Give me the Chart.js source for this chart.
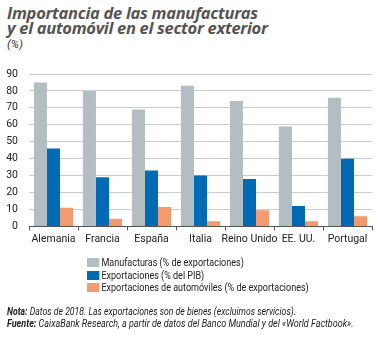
<!DOCTYPE html>
<html>
<head>
<meta charset="utf-8">
<script src="https://cdn.jsdelivr.net/npm/chart.js@4/dist/chart.umd.min.js"></script>
<style>
  body { margin: 0; background: #fff; }
  #wrap { position: relative; width: 386px; height: 338px; overflow: hidden; font-family: Roboto, sans-serif; }
  #chart-area { position: absolute; left: 0; top: 0; }
  .title { position: absolute; left: 7px; top: 5px; font: italic bold 16.5px "Open Sans", sans-serif; color: #555; line-height: 15px; letter-spacing: -0.3px; white-space: nowrap; }
  .unit { position: absolute; left: 7px; top: 37px; font: italic 11.5px Roboto, sans-serif; color: #333; }
  #legend { position: absolute; left: 87px; top: 257px; font-size: 11px; color: #222; transform: scaleX(0.82); transform-origin: left top; }
  #legend div { height: 12.5px; line-height: 11px; white-space: nowrap; }
  #legend span { display: inline-block; width: 14.6px; height: 9px; margin-right: 3px; vertical-align: -1px; }
  .note { position: absolute; left: 7px; font: italic 10px Roboto, sans-serif; color: #222; white-space: nowrap; transform: scaleX(0.87); transform-origin: left top; }
  .note b { font-weight: bold; }
</style>
</head>
<body>
<div id="wrap">
  <div class="title">Importancia de las manufacturas<br>y el automóvil en el sector exterior</div>
  <div class="unit">(%)</div>
  <canvas id="chart-area" width="386" height="338"></canvas>
  <div id="legend"></div>
  <div class="note" style="top:306px"><b>Nota:</b> Datos de 2018. Las exportaciones son de bienes (excluimos servicios).</div>
  <div class="note" style="top:318px; transform: scaleX(0.9)"><b>Fuente:</b> CaixaBank Research, a partir de datos del Banco Mundial y del «World Factbook».</div>
</div>
<script>
var countries = ["Alemania", "Francia", "España", "Italia", "Reino Unido", "EE. UU.", "Portugal"];
var manufacturas = [85, 80, 69, 83, 74, 59, 76];
var exportacionesPib = [46, 29, 33, 30, 28, 12, 40];
var automoviles = [11, 4.5, 11.5, 3, 9.5, 3, 6];
var seriesNames = [
	"Manufacturas (% de exportaciones)",
	"Exportaciones (% del PIB)",
	"Exportaciones de automóviles (% de exportaciones)"
];
var seriesColors = ['#b4bdc2', '#006ab4', '#f39a70'];

var tickFont = { family: "Roboto", size: 10.5 };

var config = {
	type: 'bar',
	data: {
		labels: countries,
		datasets: [
			{ label: seriesNames[0], data: manufacturas, backgroundColor: seriesColors[0] },
			{ label: seriesNames[1], data: exportacionesPib, backgroundColor: seriesColors[1] },
			{ label: seriesNames[2], data: automoviles, backgroundColor: seriesColors[2] }
		]
	},
	options: {
		responsive: false,
		animation: false,
		layout: { padding: { left: 0, right: 14, top: 74, bottom: 89 } },
		datasets: { bar: { categoryPercentage: 0.8, barPercentage: 1.0 } },
		plugins: { legend: { display: false }, tooltip: { enabled: false } },
		scales: {
			x: {
				grid: { drawOnChartArea: false, drawTicks: true, tickLength: 4, offset: true, color: '#555' },
				border: { display: true, color: '#555', width: 1 },
				ticks: { color: '#222', font: tickFont, padding: 3, maxRotation: 0, autoSkip: false }
			},
			y: {
				min: 0, max: 90,
				ticks: { stepSize: 10, color: '#222', font: tickFont, padding: 11, autoSkip: false },
				grid: { color: '#ccc', drawTicks: false },
				border: { display: false },
				afterFit: function (scale) { scale.width = 29; }
			}
		}
	}
};

var ctx = document.getElementById('chart-area').getContext('2d');
var myChart = new Chart(ctx, config);

// legend
var legend = document.getElementById('legend');
seriesNames.forEach(function (name, i) {
	var row = document.createElement('div');
	row.innerHTML = '<span style="background:' + seriesColors[i] + '"></span>' + name;
	legend.appendChild(row);
});
</script>
</body>
</html>
